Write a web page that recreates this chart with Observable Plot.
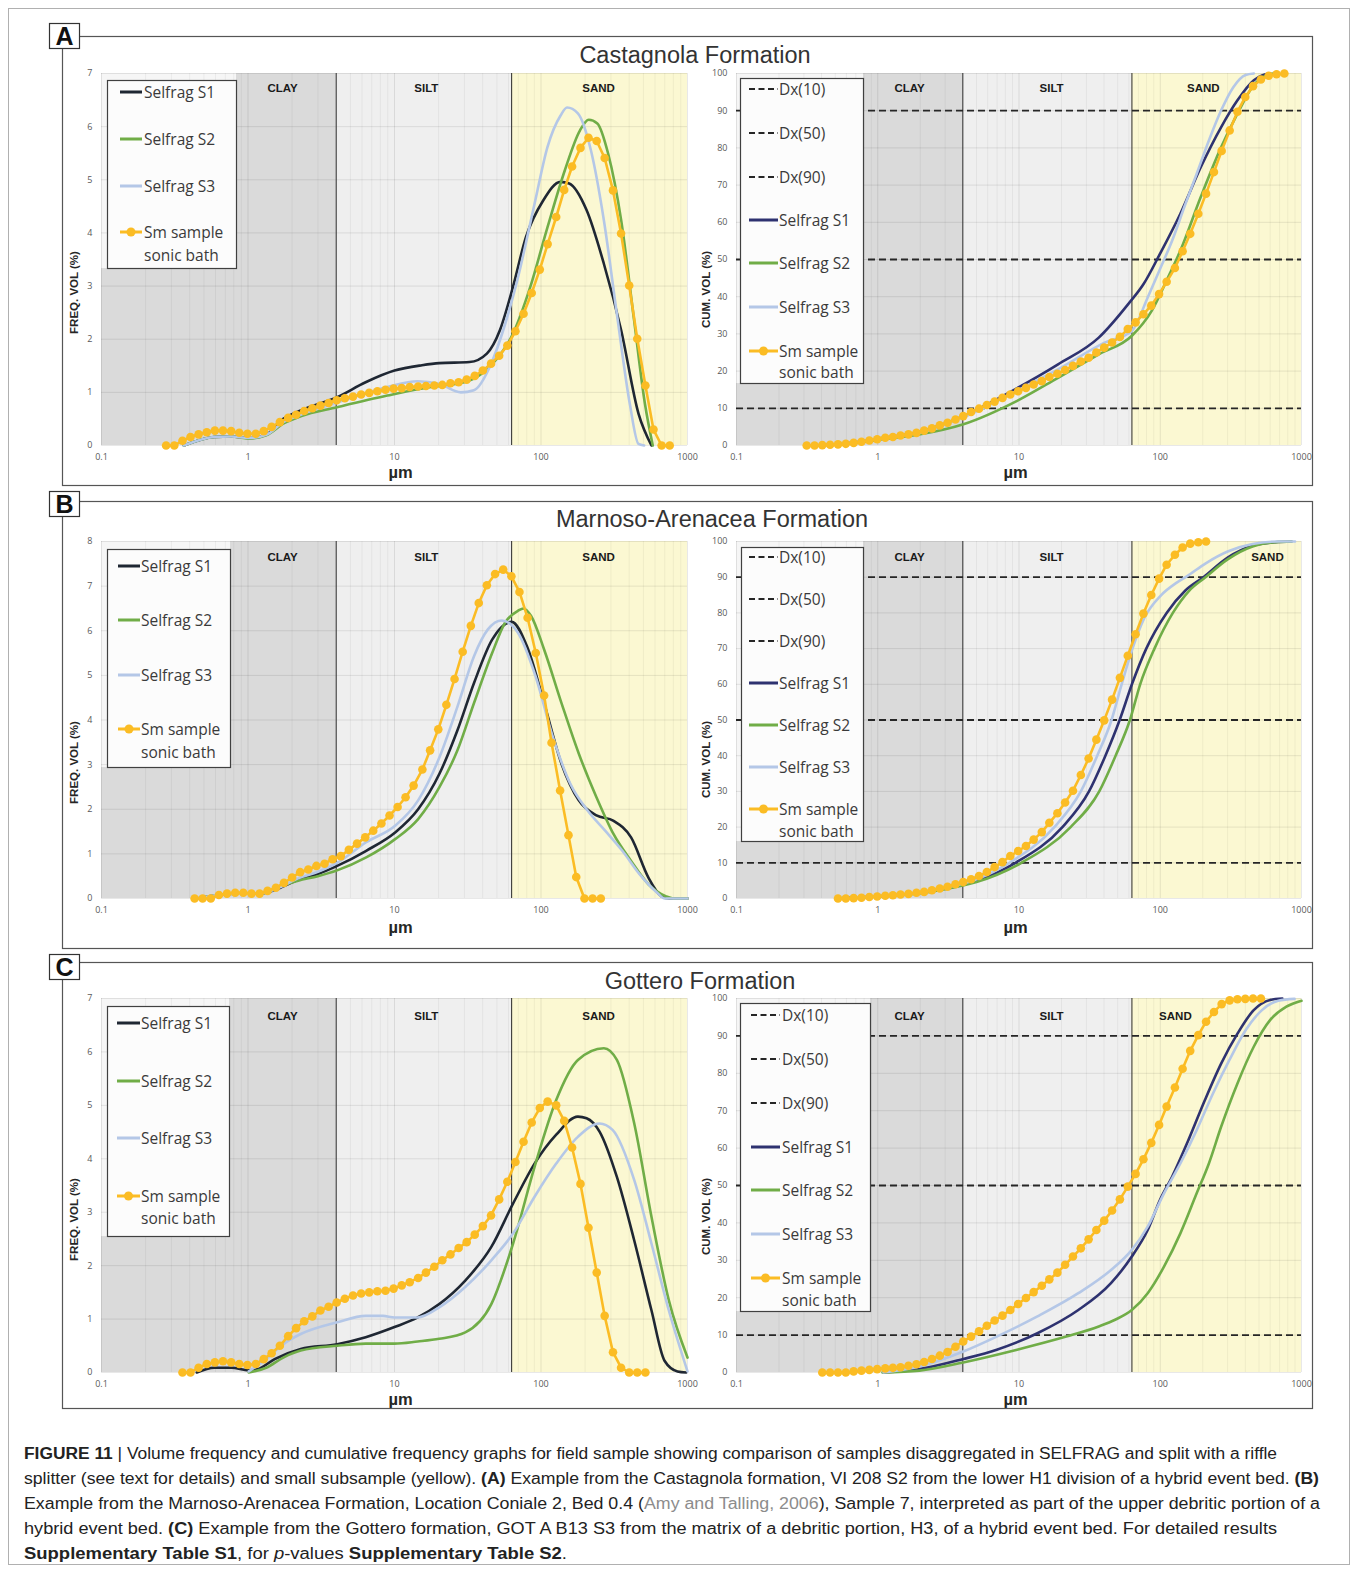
<!DOCTYPE html>
<html><head><meta charset="utf-8">
<script src="https://cdn.jsdelivr.net/npm/d3@7"></script>
<script src="https://cdn.jsdelivr.net/npm/@observablehq/plot@0.6"></script>
<style>
body{margin:0;background:#fff;}
#fig{position:relative;width:1354px;height:1570px;overflow:hidden;background:#fff;}
</style></head>
<body><div id="fig"></div>
<script>
// ---------- DATA ----------
// Laser-diffraction size classes (µm)
const binSizes = [0.276,0.314,0.357,0.405,0.460,0.523,0.594,0.675,0.767,0.872,0.991,1.13,1.28,1.45,1.65,1.88,2.13,2.42,2.75,3.12,3.55,4.03,4.58,5.21,5.92,6.72,7.64,8.68,9.86,11.2,12.7,14.5,16.4,18.7,21.2,24.1,27.4,31.1,35.3,40.1,45.6,51.8,58.9,66.9,76.0,86.4,98.1,111,127,144,163,186,211,240,272,310,352,400,454,516,586,666,756];
const binMids = [0.432,0.490,0.557,0.633,0.719,0.818,0.929,1.056,1.20,1.36,1.55,1.76,2.00,2.27,2.58,2.93,3.33,3.78,4.30,4.88,5.55,6.31,7.16,8.14,9.25,10.5,11.9,13.5,15.5,17.5,19.9,22.6,25.7,29.2,33.2,37.6,42.7,48.6,55.2,62.8,71.3,81.0,92.1,105,118,135,154,174,198,225,256];

const regionNames = ["CLAY","SILT","SAND"];
const regionBounds = [[0.1,4],[4,63],[63,1000]];
const boundaries = [4,63];
const dxLevels = [10,50,90];
const xTicks = [0.1,1,10,100,1000];
const freqTicks7 = [0,1,2,3,4,5,6,7];
const freqTicks8 = [0,1,2,3,4,5,6,7,8];
const cumTicks = [0,10,20,30,40,50,60,70,80,90,100];
const freqLegend = ["Selfrag S1","Selfrag S2","Selfrag S3","Sm sample","sonic bath"];
const cumLegend = ["Dx(10)","Dx(50)","Dx(90)","Selfrag S1","Selfrag S2","Selfrag S3","Sm sample","sonic bath"];

// Panel A – Castagnola
const aFreqSm = [0,0,0.09,0.16,0.21,0.25,0.28,0.28,0.27,0.24,0.22,0.22,0.27,0.35,0.44,0.52,0.58,0.65,0.70,0.75,0.80,0.85,0.89,0.92,0.96,0.99,1.02,1.05,1.07,1.08,1.10,1.11,1.12,1.13,1.14,1.17,1.19,1.24,1.31,1.41,1.54,1.69,1.88,2.15,2.48,2.87,3.31,3.79,4.30,4.81,5.25,5.60,5.79,5.73,5.41,4.80,3.99,3.01,2.01,1.13,0.30,0,0];
const aFreqS1 = [[0.365,0],[0.587,0.16],[0.77,0.17],[1.01,0.14],[1.33,0.2],[1.74,0.5],[2.29,0.66],[4.06,0.91],[6.35,1.19],[10,1.41],[15.4,1.51],[20.2,1.55],[32.5,1.57],[42.7,1.73],[52.4,2.17],[64.3,2.98],[78.9,3.92],[103.5,4.61],[136,4.96],[155.7,4.93],[204.6,4.43],[268.6,3.42],[352.5,2.17],[462.9,0.6],[567.6,0]];
const aFreqS2 = [[0.365,0],[0.587,0.16],[0.77,0.17],[1.01,0.13],[1.33,0.19],[1.74,0.41],[2.29,0.55],[4.06,0.72],[8.93,0.94],[17.7,1.1],[26.6,1.16],[34.8,1.26],[45.7,1.51],[64.3,2.1],[84.4,2.98],[110.8,4.11],[145.5,5.18],[184.6,5.93],[211.6,6.13],[242.4,6.06],[287.4,5.49],[352.5,4.24],[432.3,2.35],[512.5,0.78],[579.5,0]];
const aFreqS3 = [[0.365,0],[0.587,0.16],[0.77,0.17],[1.01,0.14],[1.33,0.2],[1.74,0.44],[2.29,0.58],[4.52,0.85],[8.93,1.1],[14.4,1.21],[20.2,1.16],[28.4,1.0],[34.8,1.04],[45.7,1.54],[56.1,2.23],[68.9,3.11],[90.4,4.55],[110.8,5.62],[136,6.21],[150.6,6.36],[178.5,6.25],[218.9,5.56],[268.6,4.24],[329.4,2.48],[404,0.78],[462.9,0.03],[505.6,0]];
const aCumSm = [0,0,0.1,0.2,0.3,0.45,0.7,1.0,1.35,1.7,2.1,2.3,2.7,3.0,3.4,4.0,4.6,5.4,6.1,7.0,7.9,9.0,9.9,10.9,11.8,12.8,13.7,14.6,15.5,16.4,17.3,18.4,19.3,20.3,21.4,22.6,23.6,25.0,26.3,27.7,29.2,31.3,33.1,35.3,37.6,40.7,44.0,47.7,52.2,56.9,62.3,67.7,73.5,79.2,84.7,89.7,93.7,96.6,98.4,99.4,99.8,100];
const aCumS1 = [[0.35,0],[0.6,0.6],[1,1.8],[2,3.7],[4,7.8],[8.5,14.2],[18.9,21.8],[36.7,29],[59.3,38],[76.2,43.4],[99.5,51.5],[138.8,62.3],[193.5,74.8],[270,85.6],[352,92.8],[460,98.2],[525,99.5],[600,100]];
const aCumS2 = [[0.38,0],[0.6,0.5],[1,1.5],[2,3],[4.04,5.7],[9.7,12],[18.9,18.2],[36.7,24.5],[63,29.5],[87,36.2],[113.6,45.2],[138.8,52.4],[193.5,66.8],[270,80.2],[352,89.2],[460,96.9],[561,99.5],[630,100]];
const aCumS3 = [[0.35,0],[0.6,0.6],[1,1.8],[2,3.5],[4,7.5],[10,15],[20,21],[40,27.6],[63,30.8],[81.5,39.8],[99.5,47.4],[121.5,55.1],[148,64.1],[181,73],[221,82],[270,90.1],[330,96.4],[402,99.6],[460,100]];

// Panel B – Marnoso-Arenacea
const bFreqSm = [0,0,0,0.08,0.11,0.13,0.13,0.11,0.11,0.17,0.24,0.35,0.47,0.59,0.65,0.73,0.78,0.88,0.95,1.09,1.23,1.37,1.52,1.68,1.86,2.05,2.27,2.53,2.89,3.32,3.79,4.34,4.92,5.53,6.11,6.62,7.02,7.27,7.37,7.22,6.87,6.29,5.50,4.55,3.49,2.42,1.42,0.48,0,0,0];
const bFreqS1 = [[0.45,0],[0.6,0.07],[0.8,0.11],[1.2,0.11],[1.6,0.22],[2.2,0.42],[3,0.55],[4.06,0.73],[6.41,1.07],[10.1,1.48],[14.5,2.0],[20.3,2.8],[26.9,3.77],[34.9,4.83],[46.4,5.8],[63,6.2],[80.2,5.65],[105,4.38],[138,3.02],[181,2.2],[239,1.86],[313,1.74],[412,1.37],[541,0.47],[664,0.05],[750,0],[1000,0]];
const bFreqS2 = [[0.45,0],[0.6,0.07],[0.8,0.11],[1.2,0.11],[1.75,0.3],[2.2,0.4],[3,0.5],[4.06,0.63],[6.41,0.92],[10.1,1.33],[14.5,1.78],[20.3,2.5],[26.9,3.32],[34.9,4.38],[46.4,5.5],[56.8,6.18],[69.8,6.45],[75.8,6.5],[85.6,6.33],[105,5.58],[138,4.38],[181,3.25],[239,2.27],[313,1.44],[412,0.84],[541,0.32],[710,0.05],[800,0],[1000,0]];
const bFreqS3 = [[0.45,0],[0.6,0.07],[0.8,0.11],[1.2,0.11],[1.6,0.23],[2.2,0.45],[3,0.6],[4.06,0.8],[6.41,1.26],[10.1,1.63],[14.5,2.2],[20.3,3.17],[26.9,4.3],[34.9,5.43],[43.4,6.03],[54,6.23],[69.8,5.95],[91.8,4.98],[120.5,3.62],[158.5,2.57],[208,1.97],[274,1.52],[359,1.07],[472,0.54],[621,0.13],[700,0],[1000,0]];
const bCumSm = [0,0,0.1,0.2,0.4,0.55,0.75,0.9,1.1,1.3,1.6,1.85,2.3,2.8,3.3,4.0,4.6,5.4,6.3,7.4,8.8,10.2,11.9,13.3,14.7,16.5,18.6,21.2,23.9,26.9,30.2,34.6,39.2,44.5,49.9,55.7,61.8,68.0,74.0,79.8,85.0,89.6,93.5,96.3,98.3,99.4,99.8,100];
const bCumS1 = [[0.5,0],[1,0.6],[2,1.6],[3,2.8],[5,5],[9.45,10],[20.3,20],[31.3,30],[40.9,40],[51.6,50],[63,60],[79.6,70],[111,80],[150,86.2],[202,90],[300,95.5],[450,98.8],[650,99.8],[850,100]];
const bCumS2 = [[0.5,0],[1,0.55],[2,1.5],[3,2.6],[5,4.6],[10.4,10],[23.2,20],[37,30],[48.3,40],[61,50],[72.1,60],[91,70],[122.8,80],[160,86.2],[209,90],[300,95],[450,98.6],[650,99.8],[850,100]];
const bCumS3 = [[0.5,0],[1,0.65],[2,1.7],[3,3.0],[5,5.4],[8.55,10],[17.8,20],[27.4,30],[35.8,40],[45.2,50],[53.3,60],[63,69.5],[77,78.5],[100.5,84.8],[130,88.4],[155,90.3],[210,93.9],[300,97.2],[450,99.3],[700,100],[900,100]];

// Panel C – Gottero
const cFreqSm = [0,0,0.09,0.16,0.19,0.21,0.19,0.16,0.14,0.16,0.25,0.36,0.50,0.68,0.83,0.96,1.05,1.16,1.23,1.31,1.38,1.44,1.48,1.50,1.52,1.53,1.57,1.63,1.69,1.77,1.87,1.98,2.10,2.21,2.33,2.44,2.58,2.74,2.94,3.24,3.57,3.94,4.32,4.68,4.95,5.07,5.00,4.71,4.21,3.53,2.71,1.87,1.06,0.38,0.09,0,0,0];
const cFreqS1 = [[0.447,0],[0.587,0.09],[0.771,0.09],[1.012,0.04],[1.16,0.06],[1.52,0.25],[2.29,0.44],[4.06,0.53],[6.36,0.66],[10.0,0.85],[14.4,1.03],[20.2,1.28],[30.4,1.72],[45.8,2.35],[64.4,3.16],[90.4,3.91],[127,4.45],[178.6,4.79],[204.7,4.76],[251,4.51],[329.6,3.66],[433,2.47],[568,1.16],[697,0.22],[855,0.02],[980,0]];
const cFreqS2 = [[1.012,0],[1.33,0.09],[1.74,0.28],[2.29,0.41],[4.06,0.5],[6.36,0.54],[10.0,0.54],[14.4,0.58],[20.2,0.63],[30.4,0.75],[45.8,1.28],[64.4,2.41],[90.4,3.85],[127,5.1],[178.6,5.85],[268.8,6.07],[329.6,5.85],[433,4.66],[568,2.91],[746,1.35],[1000,0.28]];
const cFreqS3 = [[1.012,0.02],[1.33,0.25],[1.74,0.53],[2.29,0.72],[4.06,0.94],[6.36,1.06],[8.35,1.06],[10.0,1.03],[14.4,1.03],[20.2,1.22],[30.4,1.6],[45.8,2.1],[64.4,2.6],[90.4,3.29],[127,3.91],[178.6,4.41],[251,4.66],[308,4.54],[433,3.6],[568,2.41],[746,1.16],[1000,0.02]];
const cCumSm = [0,0,0,0,0.3,0.5,0.7,0.9,1.1,1.25,1.4,1.8,2.2,2.8,3.6,4.5,5.5,6.9,8.3,9.6,11.0,12.5,13.9,15.2,16.7,18.3,19.9,21.5,23.2,24.9,26.7,28.8,31.0,33.2,35.6,38.1,40.6,43.3,46.3,49.7,53.1,57.0,61.4,66.2,71.1,76.2,81.2,86.0,90.2,93.8,96.4,98.5,99.5,99.8,99.9,100,100];
const cCumS1 = [[1.1,0],[1.97,0.9],[4.03,3.6],[6.96,6.1],[13.5,10.5],[26.3,16.7],[44.8,23.9],[62.9,31.0],[81.5,38.1],[99.5,46.1],[121.5,52.4],[158.5,62.2],[206.8,72.8],[269.8,82.6],[352,90.6],[459,96.9],[599,99.6],[732,100]];
const cCumS2 = [[1.08,0],[1.97,0.5],[4.03,2.7],[9.7,6.1],[21.6,9.6],[36.7,12.3],[47.9,14.1],[62.9,16.7],[81.5,21.2],[106.3,28.3],[138.8,37.2],[181.1,47.9],[221,55.9],[269.8,65.7],[352,77.3],[459,87.1],[599,94.2],[781.7,97.8],[1000,99.4]];
const cCumS3 = [[1.1,0],[1.97,1.6],[4.03,5.6],[6.96,9.6],[13.5,15.0],[26.3,21.2],[44.8,27.4],[62.9,32.8],[81.5,39.0],[106.3,47.9],[138.8,55.9],[181.1,64.8],[236.2,74.6],[308.2,83.5],[402,91.5],[524.8,96.9],[684.6,99.4],[893,99.9]];

// ---------- STYLE ----------
const col = {s1L:"#1f2733", s1R:"#2e3270", s2:"#70ad47", s3:"#b4c7e7", sm:"#fbbc24",
  clay:"#dadada", silt:"#efefef", sand:"#fbf8d2", backdrop:"#f6f6f6"};
const SANS = "'Liberation Sans', Arial, sans-serif";
const LEG = "'Open Sans', sans-serif";

const charts = [
 {side:"L", ticks:freqTicks7, plotTop:73, plotBottom:445, panelBottom:485, series:[aFreqS1,aFreqS2,aFreqS3], smX:binSizes, smY:aFreqSm,
  legend:{box:[107,80,236,268], rows:[92,139,186,232,255], sw:[13,35,37]}, ylabel:"FREQ. VOL (%)", ylabelY:292, xlabelY:472, xlabelX:400, labelX:[1.72,16.5,247], labelY:88},
 {side:"R", ticks:cumTicks, plotTop:73, plotBottom:445, panelBottom:485, series:[aCumS1,aCumS2,aCumS3], smX:binSizes.slice(1), smY:aCumSm,
  legend:{box:[740,78,863,383], rows:[89,133,177,220,263,307,351,372], sw:[9,38,39]}, ylabel:"CUM. VOL (%)", ylabelY:289, xlabelY:472, xlabelX:1015, labelX:[1.68,17.0,202], labelY:88},
 {side:"L", ticks:freqTicks8, plotTop:541, plotBottom:898, panelBottom:948, series:[bFreqS1,bFreqS2,bFreqS3], smX:binMids, smY:bFreqSm,
  legend:{box:[107,549,230,767], rows:[566,620,675,729,752], sw:[11,33,34]}, ylabel:"FREQ. VOL (%)", ylabelY:762, xlabelY:927, xlabelX:400, labelX:[1.72,16.5,247], labelY:557},
 {side:"R", ticks:cumTicks, plotTop:541, plotBottom:898, panelBottom:948, series:[bCumS1,bCumS2,bCumS3], smX:binSizes.slice(5,53), smY:bCumSm,
  legend:{box:[741,547,863,841], rows:[557,599,641,683,725,767,809,831], sw:[8,37,38]}, ylabel:"CUM. VOL (%)", ylabelY:759, xlabelY:927, xlabelX:1015, labelX:[1.68,17.0,574], labelY:557},
 {side:"L", ticks:freqTicks7, plotTop:998, plotBottom:1372, panelBottom:1408, series:[cFreqS1,cFreqS2,cFreqS3], smX:binSizes.slice(2,60), smY:cFreqSm,
  legend:{box:[107,1006,229,1236], rows:[1023,1081,1138,1196,1218], sw:[10,33,34]}, ylabel:"FREQ. VOL (%)", ylabelY:1219, xlabelY:1399, xlabelX:400, labelX:[1.72,16.5,247], labelY:1016},
 {side:"R", ticks:cumTicks, plotTop:998, plotBottom:1372, panelBottom:1408, series:[cCumS1,cCumS2,cCumS3], smX:binSizes.slice(3,60), smY:cCumSm,
  legend:{box:[740,1003,870,1311], rows:[1015,1059,1103,1147,1190,1234,1278,1300], sw:[11,40,42]}, ylabel:"CUM. VOL (%)", ylabelY:1216, xlabelY:1399, xlabelX:1015, labelX:[1.68,17.0,128], labelY:1016}
];

const minorTicks = [0.1,1,10,100].flatMap(d => [2,3,4,5,6,7,8,9].map(k => d*k));
const fig = document.getElementById("fig");
const NS = "http://www.w3.org/2000/svg";

function buildChart(c) {
  const L = c.side === "L";
  const svgLeft = L ? 62 : 695;
  const width = L ? 633 : 616;
  const mL = L ? 39 : 41, mR = L ? 8 : 10, mT = 8;
  const svgTop = c.plotTop - mT;
  const height = c.panelBottom - svgTop;
  const mB = c.panelBottom - c.plotBottom;
  const ymax = c.ticks[c.ticks.length - 1];
  const plotW = width - mL - mR;
  const regions = regionNames.map((n, i) => ({name:n, from:regionBounds[i][0], to:regionBounds[i][1]}));
  const fills = [col.clay, col.silt, col.sand];
  const marks = [];
  regions.forEach((r, i) => marks.push(Plot.rect([r], {x1:d=>d.from, x2:d=>d.to, y1:0, y2:ymax, fill:fills[i]})));
  // lighter area behind legend
  const bx = c.legend.box;
  marks.push(() => {
    const r = document.createElementNS(NS, "rect");
    r.setAttribute("x", mL); r.setAttribute("y", mT);
    r.setAttribute("width", bx[2] - svgLeft - mL); r.setAttribute("height", bx[3] - svgTop - mT);
    r.setAttribute("fill", col.backdrop);
    return r;
  });
  marks.push(Plot.ruleX(minorTicks, {stroke:"#000", strokeOpacity:0.05}));
  marks.push(Plot.ruleX(xTicks, {stroke:"#000", strokeOpacity:0.09}));
  marks.push(Plot.ruleY(c.ticks, {stroke:"#000", strokeOpacity:0.09}));
  marks.push(Plot.ruleX(boundaries, {stroke:"#3a3a3a", strokeWidth:1.1}));
  if (!L) marks.push(Plot.ruleY(dxLevels, {stroke:"#262626", strokeWidth:1.8, strokeDasharray:"7,4"}));
  const sc = [L ? col.s1L : col.s1R, col.s2, col.s3];
  c.series.forEach((s, i) => marks.push(Plot.line(s, {x:d=>d[0], y:d=>d[1], stroke:sc[i], strokeWidth:2.6, curve:"monotone-x"})));
  marks.push(Plot.line(c.smY, {x:(d,i)=>c.smX[i], y:d=>d, stroke:col.sm, strokeWidth:2.6}));
  marks.push(Plot.dot(c.smY, {x:(d,i)=>c.smX[i], y:d=>d, r:4.3, fill:col.sm}));
  const labs = regionNames.map((n, i) => ({name:n, x:c.labelX[i]}));
  marks.push(Plot.text(labs, {x:d=>d.x, text:d=>d.name, frameAnchor:"top", lineAnchor:"middle", dy:c.labelY - c.plotTop, fontSize:11.5, fontWeight:"bold", fill:"#1a1a1a", fontFamily:SANS}));
  marks.push(Plot.text(["µm"], {text:d=>d, frameAnchor:"bottom", lineAnchor:"middle", dx:c.xlabelX - (svgLeft + mL + plotW/2), dy:c.xlabelY - c.plotBottom, fontSize:16.5, fontWeight:"bold", fill:"#262626", fontFamily:SANS}));
  marks.push(Plot.text([c.ylabel], {text:d=>d, frameAnchor:"left", textAnchor:"middle", lineAnchor:"middle", rotate:-90, dx:(L ? 74 : 706) - (svgLeft + mL), dy:c.ylabelY - (c.plotTop + c.plotBottom)/2, fontSize:11.5, fontWeight:"bold", fill:"#262626", fontFamily:SANS}));
  const svg = Plot.plot({
    width, height, marginLeft:mL, marginRight:mR, marginTop:mT, marginBottom:mB,
    style:{fontFamily:LEG, fontSize:"9px", color:"#595959", background:"transparent", overflow:"visible"},
    x:{type:"log", domain:[0.1,1000], ticks:xTicks, tickFormat:d=>String(d), tickSize:0, tickPadding:8, label:null},
    y:{domain:[0,ymax], ticks:c.ticks, tickFormat:d=>String(d), tickSize:0, tickPadding:9, label:null},
    marks
  });
  svg.style.position = "absolute";
  svg.style.left = svgLeft + "px";
  svg.style.top = svgTop + "px";
  fig.appendChild(svg);
}
charts.forEach(buildChart);

// ---------- OVERLAY: frames, titles, legends, caption ----------
const ov = document.createElementNS(NS, "svg");
ov.setAttribute("width", 1354); ov.setAttribute("height", 1570);
ov.style.position = "absolute"; ov.style.left = "0"; ov.style.top = "0"; ov.style.pointerEvents = "none";
fig.appendChild(ov);
function el(tag, attrs, parent = ov, text) {
  const e = document.createElementNS(NS, tag);
  for (const k in attrs) e.setAttribute(k, attrs[k]);
  if (text !== undefined) e.textContent = text;
  parent.appendChild(e);
  return e;
}
el("rect", {x:8.5, y:8.5, width:1341, height:1556, fill:"none", stroke:"#b0b0b0", "stroke-width":1});

const panels = [
  {letter:"A", top:36.5, bottom:485.5, labelTop:23.5, title:"Castagnola Formation", titleX:695, titleBase:63},
  {letter:"B", top:501.5, bottom:948.5, labelTop:491.5, title:"Marnoso-Arenacea Formation", titleX:712, titleBase:527},
  {letter:"C", top:962.5, bottom:1408.5, labelTop:954.5, title:"Gottero Formation", titleX:700, titleBase:989}
];
panels.forEach(p => {
  el("rect", {x:62.5, y:p.top, width:1250, height:p.bottom - p.top, fill:"none", stroke:"#555", "stroke-width":1.2});
  el("rect", {x:49.5, y:p.labelTop, width:30, height:25, fill:"#fff", stroke:"#333", "stroke-width":1.2});
  el("text", {x:64.5, y:p.labelTop + 21.5, "text-anchor":"middle", "font-family":SANS, "font-size":25, "font-weight":"bold", fill:"#111"}, ov, p.letter);
  el("text", {x:p.titleX, y:p.titleBase, "text-anchor":"middle", "font-family":SANS, "font-size":23.5, fill:"#333"}, ov, p.title);
});

charts.forEach(c => {
  const L = c.side === "L";
  const [x0, y0, x1, y1] = c.legend.box;
  el("rect", {x:x0 + 0.5, y:y0 + 0.5, width:x1 - x0, height:y1 - y0, fill:"#fcfcfc", stroke:"#404040", "stroke-width":1.2});
  const [a, b, t] = c.legend.sw;
  const labels = L ? freqLegend : cumLegend;
  const kinds = L ? ["s0","s1","s2","sm","none"] : ["dash","dash","dash","s0","s1","s2","sm","none"];
  const sc = [L ? col.s1L : col.s1R, col.s2, col.s3];
  labels.forEach((lab, i) => {
    const y = c.legend.rows[i];
    const k = kinds[i];
    if (k === "dash") el("line", {x1:x0 + a, x2:x0 + b, y1:y, y2:y, stroke:"#262626", "stroke-width":2, "stroke-dasharray":"6,3.5"});
    else if (k === "sm") {
      el("line", {x1:x0 + a, x2:x0 + b, y1:y, y2:y, stroke:col.sm, "stroke-width":3});
      el("circle", {cx:x0 + (a + b)/2, cy:y, r:4.5, fill:col.sm});
    } else if (k !== "none") el("line", {x1:x0 + a, x2:x0 + b, y1:y, y2:y, stroke:sc[+k[1]], "stroke-width":3});
    el("text", {x:x0 + t, y:y + 5.5, "font-family":LEG, "font-size":15.5, fill:"#3a3a3a"}, ov, lab);
  });
});

// caption
const capLines = [
  {w:1253, parts:[["FIGURE 11","b"],[" | Volume frequency and cumulative frequency graphs for field sample showing comparison of samples disaggregated in SELFRAG and split with a riffle",""]]},
  {w:1295, parts:[["splitter (see text for details) and small subsample (yellow). ",""],["(A)","b"],[" Example from the Castagnola formation, VI 208 S2 from the lower H1 division of a hybrid event bed. ",""],["(B)","b"]]},
  {w:1296, parts:[["Example from the Marnoso-Arenacea Formation, Location Coniale 2, Bed 0.4 (",""],["Amy and Talling, 2006","g"],["), Sample 7, interpreted as part of the upper debritic portion of a",""]]},
  {w:1253, parts:[["hybrid event bed. ",""],["(C)","b"],[" Example from the Gottero formation, GOT A B13 S3 from the matrix of a debritic portion, H3, of a hybrid event bed. For detailed results",""]]},
  {w:543, parts:[["Supplementary Table S1","b"],[", for ",""],["p","i"],["-values ",""],["Supplementary Table S2","b"],[".",""]]}
];
capLines.forEach((ln, i) => {
  const t = el("text", {x:24, y:1458.5 + i*25, "font-family":SANS, "font-size":16, fill:"#222", textLength:ln.w, lengthAdjust:"spacingAndGlyphs"});
  ln.parts.forEach(([s, f]) => {
    const a = {};
    if (f === "b") a["font-weight"] = "bold";
    if (f === "i") a["font-style"] = "italic";
    if (f === "g") a.fill = "#8c8c8c";
    el("tspan", a, t, s);
  });
});
</script>
</body></html>
